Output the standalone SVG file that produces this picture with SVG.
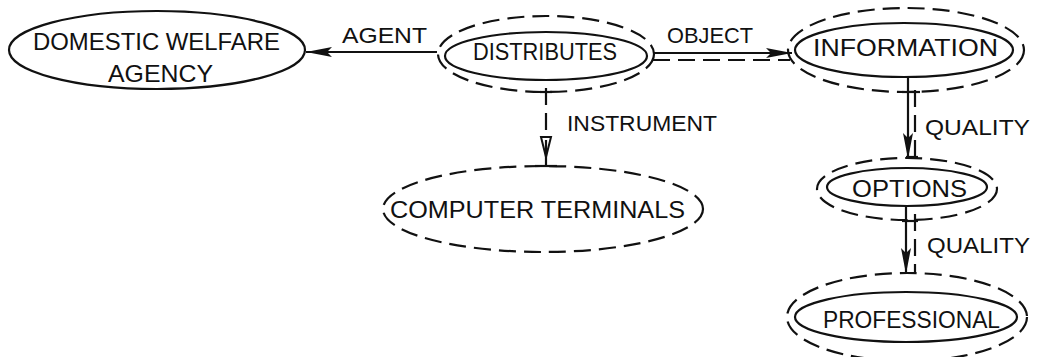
<svg xmlns="http://www.w3.org/2000/svg" width="1043" height="357" viewBox="0 0 1043 357">
  <defs>
    <style>
      .solid { fill: none; stroke: #111; stroke-width: 2.2; }
      .dash { fill: none; stroke: #111; stroke-width: 2.2; stroke-dasharray: 17 8; }
      .lbl { font-family: "Liberation Sans", "DejaVu Sans", sans-serif; font-size: 22.5px; fill: #111; }
      .node { font-family: "Liberation Sans", "DejaVu Sans", sans-serif; font-size: 24px; fill: #111; }
    </style>
    <marker id="head" viewBox="0 0 26 10" refX="26" refY="5" markerWidth="26" markerHeight="10" markerUnits="userSpaceOnUse" orient="auto">
      <path d="M0,0 L26,5 L0,10 L5,5 Z" fill="#111"/>
    </marker>
  </defs>
  <rect width="1043" height="357" fill="#fff"/>

  <!-- connectors -->
  <g id="connectors">
    <!-- AGENT -->
    <line class="solid" x1="437" y1="52" x2="306" y2="52" marker-end="url(#head)"/>
    <text class="lbl" x="342" y="43" textLength="85" lengthAdjust="spacingAndGlyphs">AGENT</text>
    <!-- OBJECT: solid arrow with dashed companion -->
    <line class="solid" x1="653" y1="53" x2="792" y2="53" marker-end="url(#head)"/>
    <line class="dash" x1="653" y1="60" x2="790" y2="60"/>
    <text class="lbl" x="667" y="43" textLength="86" lengthAdjust="spacingAndGlyphs">OBJECT</text>
    <!-- INSTRUMENT -->
    <line class="dash" x1="546" y1="88" x2="546" y2="138"/>
    <line class="solid" x1="540" y1="92" x2="552" y2="92"/>
    <path d="M541,137 L551,137 L546,157 Z" fill="none" stroke="#111" stroke-width="2"/>
    <line class="solid" x1="546" y1="140" x2="546" y2="166"/>
    <line class="solid" x1="535" y1="166" x2="557" y2="166"/>
    <text class="lbl" x="567" y="131" textLength="150" lengthAdjust="spacingAndGlyphs">INSTRUMENT</text>
    <!-- QUALITY: INFORMATION to OPTIONS -->
    <line class="solid" x1="908" y1="78" x2="908" y2="159" marker-end="url(#head)"/>
    <line class="dash" x1="915" y1="90" x2="915" y2="157" stroke-dasharray="12 5"/>
    <line class="solid" x1="902" y1="92" x2="920" y2="92"/>
    <line class="solid" x1="906" y1="157" x2="918" y2="157"/>
    <text class="lbl" x="925" y="135" textLength="105" lengthAdjust="spacingAndGlyphs">QUALITY</text>
    <!-- QUALITY: OPTIONS to PROFESSIONAL -->
    <line class="solid" x1="906" y1="205" x2="906" y2="274" marker-end="url(#head)"/>
    <line class="dash" x1="915" y1="214" x2="915" y2="272" stroke-dasharray="12 5"/>
    <line class="solid" x1="902" y1="221" x2="918" y2="221"/>
    <text class="lbl" x="927" y="253" textLength="103" lengthAdjust="spacingAndGlyphs">QUALITY</text>
  </g>

  <!-- nodes -->
  <g id="domestic-welfare-agency">
    <ellipse class="solid" cx="157" cy="50" rx="148" ry="39"/>
    <text class="node" x="33" y="50" textLength="247" lengthAdjust="spacingAndGlyphs">DOMESTIC  WELFARE</text>
    <text class="node" x="108" y="82" textLength="105" lengthAdjust="spacingAndGlyphs">AGENCY</text>
  </g>

  <g id="distributes">
    <ellipse class="dash" cx="546" cy="54" rx="108" ry="38"/>
    <ellipse class="solid" cx="546" cy="56" rx="101" ry="24"/>
    <text class="node" x="473" y="60" textLength="144" lengthAdjust="spacingAndGlyphs">DISTRIBUTES</text>
  </g>

  <g id="information">
    <ellipse class="dash" cx="906" cy="50" rx="118" ry="42"/>
    <ellipse class="solid" cx="904" cy="50" rx="109" ry="27"/>
    <text class="node" x="813" y="56" textLength="185" lengthAdjust="spacingAndGlyphs">INFORMATION</text>
  </g>

  <g id="computer-terminals">
    <ellipse class="dash" cx="543" cy="209" rx="160" ry="43"/>
    <text class="node" x="390" y="218" textLength="295" lengthAdjust="spacingAndGlyphs">COMPUTER  TERMINALS</text>
  </g>

  <g id="options">
    <ellipse class="dash" cx="907" cy="189" rx="90" ry="31"/>
    <ellipse class="solid" cx="907" cy="187" rx="80" ry="19"/>
    <text class="node" x="852" y="197" textLength="115" lengthAdjust="spacingAndGlyphs">OPTIONS</text>
  </g>

  <g id="professional">
    <ellipse class="dash" cx="907" cy="317" rx="120" ry="44"/>
    <ellipse class="solid" cx="906" cy="317" rx="111" ry="25"/>
    <text class="node" x="823" y="328" textLength="177" lengthAdjust="spacingAndGlyphs">PROFESSIONAL</text>
  </g>
</svg>
